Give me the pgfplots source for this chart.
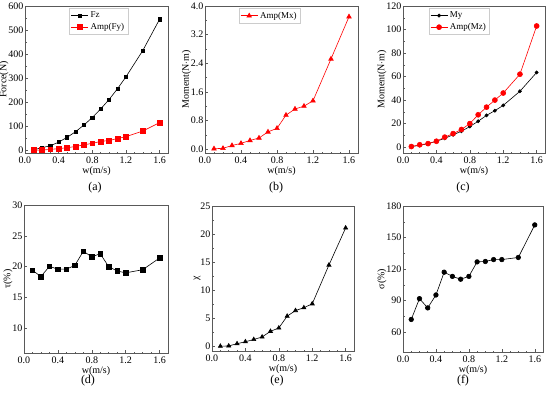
\documentclass[border=0pt]{standalone}
\usepackage{fontspec}
\setmainfont{Liberation Serif}
\usepackage{pgfplots}
\usepackage{pgfplotstable}
\pgfplotsset{compat=1.18}
\pgfplotstableread{
w Fz Fy Mx My Mz tau chi sigma
0.1 3 2 0.01 0.5 0.5 19.4 0.05 72
0.2 12 2 0.02 1.5 2 18.4 0.1 91.8
0.3 20 5 0.10 3 3 20.05 0.5 83
0.4 35 8 0.16 5 5 19.6 0.85 95.3
0.5 55 12 0.24 7.5 8.5 19.6 1.25 117
0.6 78 17 0.31 10.5 11.5 20.2 1.7 113
0.7 106 24 0.48 13.5 15 22.5 2.7 110.3
0.8 137 30 0.58 17.5 20 21.6 3.3 113
0.9 173 38 0.95 22 27.5 22.1 5.4 126.8
1.0 212 42 1.12 27 34 20.0 6.4 127.2
1.1 257 50 1.20 31 40 19.3 6.9 129
1.2 306 58 1.35 35.5 46 19.0 7.6 129
1.4 415 81 2.52 47.5 62 19.5 14.5 131
1.6 545 116 3.70 63.5 103 21.4 21.1 162
}\data
\begin{document}
\fontsize{10pt}{11pt}\selectfont
\begin{tikzpicture}
\useasboundingbox (0,0) rectangle (550pt,-397pt);
\pgfplotsset{
  base/.style={
    scale only axis, anchor=north west,
    xmin=0, xmax=1.7,
    xtick={0,0.4,0.8,1.2,1.6},
    minor x tick num=3,
    minor y tick num=1,
    xticklabel style={yshift=0pt, /pgf/number format/fixed, /pgf/number format/fixed zerofill, /pgf/number format/precision=1},
    yticklabel style={xshift=2pt},
    /pgf/number format/assume math mode=true,
    tick align=inside, xtick pos=left, ytick pos=left,
    major tick length=3pt, minor tick length=1.5pt,
    axis line style={gray!70!black, line width=0.8pt},
    every tick/.style={gray!70!black, line width=0.5pt},
    tick label style={font=\fontsize{10pt}{11pt}\selectfont, black},
    label style={font=\fontsize{10pt}{11pt}\selectfont},
    xlabel={w(m/s)},
    xlabel style={yshift=4pt},
    ylabel style={yshift=-7pt},
    legend style={draw=gray!40, font=\fontsize{9pt}{10pt}\selectfont, inner sep=1.5pt, row sep=0pt, legend cell align=left},
    every axis plot/.append style={line width=0.6pt},
  }
}
% (a)
\begin{axis}[base, at={(25pt,-6pt)}, width=143pt, height=147pt,
  ymin=-10, ymax=600, ytick={0,100,...,600}, ylabel={Force(N)},
  legend style={at={(0.31,0.985)}, anchor=north west}]
\addplot[black, mark=square*, mark size=1.6pt] table[x=w,y=Fz]{\data};
\addlegendentry{Fz}
\addplot[red, mark=square*, mark size=2.4pt] table[x=w,y=Fy]{\data};
\addlegendentry{Amp(Fy)}
\end{axis}
% (b)
\begin{axis}[base, at={(205pt,-6pt)}, width=153pt, height=147pt,
  ymin=-0.11, ymax=4.0, ytick={0,0.8,1.6,2.4,3.2,4.0},
  yticklabel style={/pgf/number format/fixed, /pgf/number format/fixed zerofill, /pgf/number format/precision=1},
  ylabel={Moment(N$\cdot$m)},
  legend style={at={(0.22,0.985)}, anchor=north west}]
\addplot[red, mark=triangle*, mark size=2.6pt] table[x=w,y=Mx]{\data};
\addlegendentry{Amp(Mx)}
\end{axis}
% (c)
\begin{axis}[base, at={(403pt,-6pt)}, width=142pt, height=147pt,
  ymin=-5, ymax=120, ytick={0,20,...,120}, ylabel={Moment(N$\cdot$m)},
  legend style={at={(0.18,0.985)}, anchor=north west}]
\addplot[black, mark=*, mark size=1.6pt] table[x=w,y=My]{\data};
\addlegendentry{My}
\addplot[red, mark=*, mark size=2.5pt] table[x=w,y=Mz]{\data};
\addlegendentry{Amp(Mz)}
\end{axis}
% (d)
\begin{axis}[base, at={(24pt,-205pt)}, width=144pt, height=148pt,
  ymin=6, ymax=30, ytick={10,15,...,30}, ylabel={τ(\%)}]
\addplot[black, mark=square*, mark size=2.3pt] table[x=w,y=tau]{\data};
\end{axis}
% (e)
\begin{axis}[base, at={(212pt,-206pt)}, width=142pt, height=145pt,
  ymin=-0.8, ymax=25, ytick={0,5,...,25}, ylabel={χ}]
\addplot[black, mark=triangle*, mark size=2.4pt] table[x=w,y=chi]{\data};
\end{axis}
% (f)
\begin{axis}[base, at={(403pt,-206pt)}, width=140pt, height=146pt,
  ymin=41, ymax=180, ytick={60,90,...,180}, ylabel={σ(\%)}]
\addplot[black, mark=*, mark size=2.3pt] table[x=w,y=sigma]{\data};
\end{axis}
\begin{scope}[every node/.style={font=\fontsize{12pt}{13pt}\selectfont, inner sep=0pt}]
\node at (95pt,-188pt) {(a)};
\node at (276pt,-188pt) {(b)};
\node at (463pt,-188pt) {(c)};
\node at (88pt,-381pt) {(d)};
\node at (277pt,-381pt) {(e)};
\node at (463pt,-381pt) {(f)};
\end{scope}
\end{tikzpicture}
\end{document}
